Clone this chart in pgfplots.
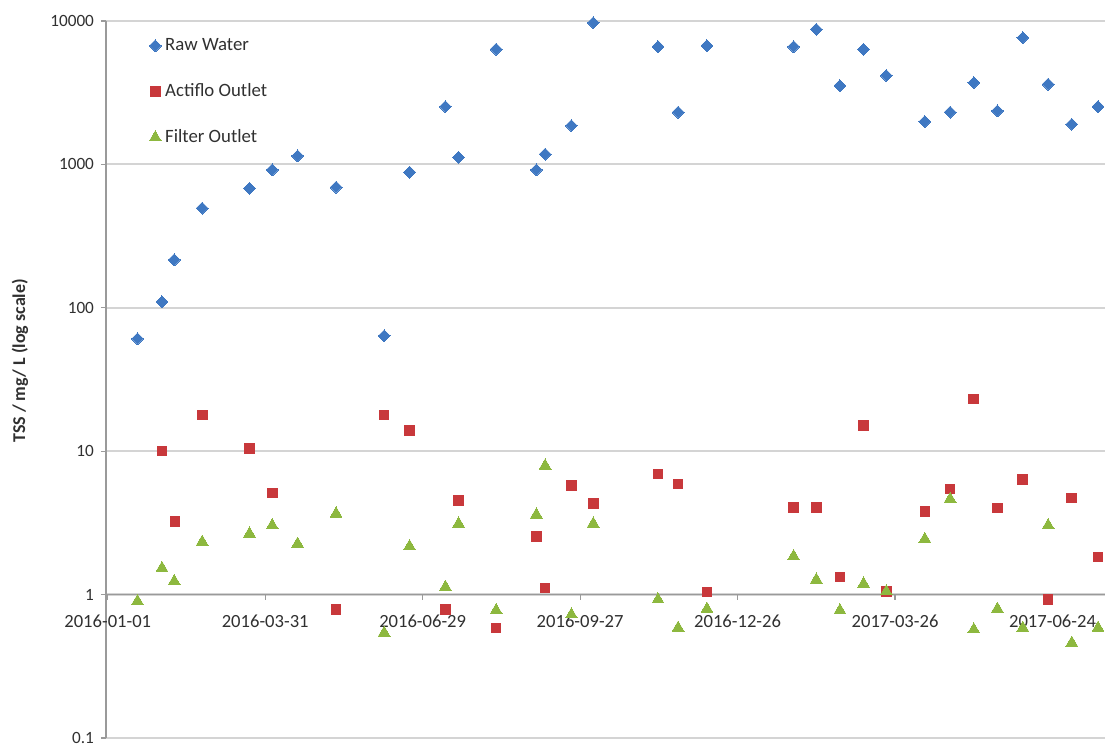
\documentclass[border=0pt]{standalone}
\usepackage{pgfplots}
\pgfplotsset{compat=1.18}
\usepackage{pgfplotstable}
\usepackage{fontspec}
\setmainfont{Carlito}
\definecolor{rawblue}{HTML}{3F78C2}
\definecolor{actred}{HTML}{C8383B}
\definecolor{filgreen}{HTML}{8DB83F}
\definecolor{gridgray}{HTML}{D4D4D4}
\definecolor{axgray}{HTML}{9A9A9A}
\definecolor{txt}{HTML}{303030}

% x = days since 2016-01-01
\pgfplotstableread{
x y
17 60.8
31 110
38 216
54 495
81 682
94 916
108.5 1146
130.5 694
158 63.8
172.5 883
193 2529
200.5 1122
222 6353
245 916
250 1178
265 1864
277.5 9725
314.5 6623
326 2312
342.5 6728
392 6620
405 8750
418.5 3540
432 6350
445 4160
467 1988
481.5 2312
495 3716
508.5 2360
523 7652
537.5 3623
551 1906
566 2529
}\rawtable

\pgfplotstableread{
x y
31 10.0
38.5 3.24
54 17.9
81 10.4
94 5.11
130.5 0.786
158 17.9
172.5 13.96
193 0.786
200.5 4.52
222 0.586
245 2.55
250 1.11
265 5.75
277.5 4.31
314.5 6.94
326 5.91
342.5 1.04
392 4.06
405 4.06
418.5 1.33
432 15.1
445 1.05
467 3.80
481.5 5.45
495 23.1
508.5 4.02
523 6.33
537.5 0.923
551 4.72
566 1.83
}\acttable

\pgfplotstableread{
x y
17 0.899
31 1.53
38 1.24
54 2.33
81 2.66
94 3.04
108.5 2.26
130.5 3.67
158 0.541
172.5 2.17
193 1.13
200.5 3.12
222 0.778
245 3.61
250 7.92
265 0.726
277.5 3.12
314.5 0.923
326 0.586
342.5 0.795
392 1.85
405 1.27
418.5 0.777
432 1.19
445 1.05
467 2.44
481.5 4.64
495 0.571
508.5 0.795
523 0.586
537.5 3.04
551 0.461
566 0.586
}\filtable

\begin{document}
\begin{tikzpicture}
\begin{axis}[
  scale only axis,
  width=499.5pt, height=358.5pt,
  xmin=-1, xmax=570,
  ymode=log, ymin=0.1, ymax=10000,
  enlargelimits=false,
  axis y line=left, axis x line=middle,
  axis line style={-, draw=axgray, line width=0.7pt},
  tick align=outside,
  major tick length=2.5pt,
  tick style={draw=axgray, line width=0.6pt},
  minor tick num=0,
  hide obscured x ticks=false,
  hide obscured y ticks=false,
  xtick={0,90,180,270,360,450,540},
  xticklabels={2016-01-01,2016-03-31,2016-06-29,2016-09-27,2016-12-26,2017-03-26,2017-06-24},
  ytick={0.1,1,10,100,1000,10000},
  yticklabels={0.1,1,10,100,1000,10000},
  log basis y=10,
  ymajorgrids,
  grid style={draw=gridgray, line width=1.1pt},
  yticklabel style={font=\fontsize{8.6}{10}\selectfont, text=txt},
  xticklabel style={font=\fontsize{9.3}{11}\selectfont, text=txt, yshift=-4pt},
  ylabel={TSS / mg/ L (log scale)},
  every axis y label/.style={at={(axis description cs:-0.086,0.526)}, rotate=90, anchor=center, font=\bfseries\fontsize{9}{11}\selectfont, text=txt},
  legend style={at={(axis description cs:0.043,0.982)}, anchor=north west, draw=none, fill=none,
    font=\fontsize{9.4}{11}\selectfont, text=txt, row sep=11pt, inner sep=0pt},
  legend cell align=left,
  legend image code/.code={\draw[#1] plot coordinates {(0pt,0pt)};},
]
\addplot[only marks, color=rawblue, mark=square*, mark size=2.1pt, mark options={rotate=45, fill=rawblue, draw=rawblue, line width=0pt}] table[x=x,y=y] {\rawtable};
\addlegendentry{Raw Water}
\addplot[only marks, color=actred, mark=square*, mark size=2.4pt, mark options={fill=actred, draw=actred, line width=0pt}] table[x=x,y=y] {\acttable};
\addlegendentry{Actiflo Outlet}
\addplot[only marks, color=filgreen, mark=triangle*, mark size=3.4pt, mark options={fill=filgreen, draw=filgreen, line width=0pt}] table[x=x,y=y] {\filtable};
\addlegendentry{Filter Outlet}
\end{axis}
\pgfresetboundingbox
\path[use as bounding box] (-53pt,-3.5pt) rectangle (499.5pt,369pt);
\end{tikzpicture}
\end{document}
